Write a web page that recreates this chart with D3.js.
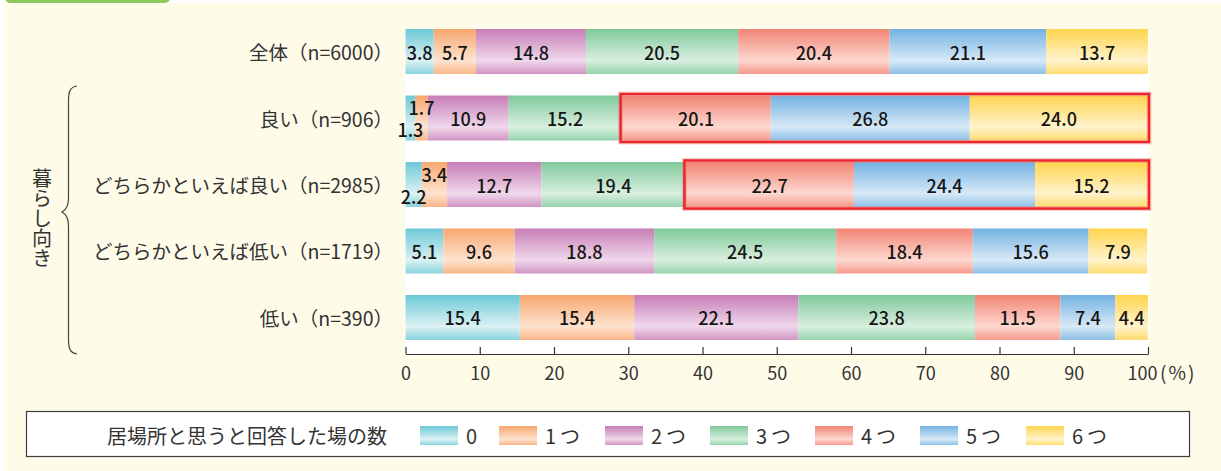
<!DOCTYPE html>
<html lang="ja">
<head>
<meta charset="utf-8">
<script src="https://cdn.jsdelivr.net/npm/d3@7"></script>
<style>
  html, body { margin: 0; padding: 0; background: #ffffff; }
  svg { display: block; }
  text { font-family: "Noto Sans CJK JP", "Noto Sans", sans-serif; }
</style>
</head>
<body>
<svg id="chart" width="1221" height="471"></svg>
<script>
// Number of places people feel they belong, by household living standard (%)
const categories = [
  "全体（n=6000）",
  "良い（n=906）",
  "どちらかといえば良い（n=2985）",
  "どちらかといえば低い（n=1719）",
  "低い（n=390）"
];
const seriesNames = ["0", "1つ", "2つ", "3つ", "4つ", "5つ", "6つ"];
const places0 = [3.8, 1.3, 2.2, 5.1, 15.4];
const places1 = [5.7, 1.7, 3.4, 9.6, 15.4];
const places2 = [14.8, 10.9, 12.7, 18.8, 22.1];
const places3 = [20.5, 15.2, 19.4, 24.5, 23.8];
const places4 = [20.4, 20.1, 22.7, 18.4, 11.5];
const places5 = [21.1, 26.8, 24.4, 15.6, 7.4];
const places6 = [13.7, 24.0, 15.2, 7.9, 4.4];
const xTicks = [0, 10, 20, 30, 40, 50, 60, 70, 80, 90, 100];
const unitLabel = "(%)";
// rows whose share of "4つ or more" is framed in red
const framedRows = ["良い（n=906）", "どちらかといえば良い（n=2985）"];
const framedFrom = 4;
const groupLabel = "暮らし向き";
const legendTitle = "居場所と思うと回答した場の数";

const seriesValues = [places0, places1, places2, places3, places4, places5, places6];
const baseColors = ["#6cc9d7", "#f7a76f", "#c77db6", "#7fc99b", "#f28474", "#73b2e1", "#ffd44e"];
const lightColors = ["#dcf1f4", "#fde3cf", "#f0d8eb", "#d9efe0", "#fdd8d0", "#d8e9f7", "#fff3cc"];

const svg = d3.select("#chart");
const defs = svg.append("defs");

// page background
svg.append("rect").attr("x", 0).attr("y", 0).attr("width", 1221).attr("height", 471).attr("fill", "#ffffff");
svg.append("rect").attr("x", 4).attr("y", 3).attr("width", 1217).attr("height", 468).attr("fill", "#fffbe9");
svg.append("rect").attr("x", 5).attr("y", -10).attr("width", 165).attr("height", 13).attr("rx", 5)
  .attr("fill", "#8dca5d");

// glossy vertical gradients for each series
seriesNames.forEach((name, i) => {
  const g = defs.append("linearGradient").attr("id", "grad" + i)
    .attr("x1", 0).attr("y1", 0).attr("x2", 0).attr("y2", 1);
  g.append("stop").attr("offset", "0%").attr("stop-color", baseColors[i]);
  g.append("stop").attr("offset", "70%").attr("stop-color", lightColors[i]);
  g.append("stop").attr("offset", "100%").attr("stop-color", d3.interpolateRgb(baseColors[i], lightColors[i])(0.25));
});

const x = d3.scaleLinear().domain([0, 100]).range([405.5, 1148]);
const y = d3.scaleBand().domain(categories).range([29, 340]).paddingInner(0.323).paddingOuter(0);
const axisY = 354;

// white plotting panel
svg.append("rect").attr("x", 405).attr("y", 29).attr("width", 744).attr("height", axisY - 29)
  .attr("fill", "#ffffff");

// stacked rows
const rows = categories.map((c, r) => {
  let acc = 0;
  return seriesValues.map((vals, s) => {
    const seg = { cat: c, row: r, s, v: vals[r], x0: acc, x1: acc + vals[r] };
    acc += vals[r];
    return seg;
  });
});
const segs = rows.flat();

svg.append("g").selectAll("rect").data(segs).join("rect")
  .attr("x", d => x(d.x0))
  .attr("y", d => y(d.cat))
  .attr("width", d => x(d.x1) - x(d.x0))
  .attr("height", y.bandwidth())
  .attr("fill", d => `url(#grad${d.s})`);

// red frames
const frames = framedRows.map(c => {
  const r = categories.indexOf(c);
  return { cat: c, x0: rows[r][framedFrom].x0, x1: 100 };
});
const fg = svg.append("g");
fg.selectAll("rect.halo").data(frames).join("rect").attr("class", "halo")
  .attr("x", d => x(d.x0) - 1).attr("y", d => y(d.cat) - 1.5)
  .attr("width", d => x(d.x1) - x(d.x0) + 2).attr("height", y.bandwidth() + 3)
  .attr("fill", "none").attr("stroke", "#f07070").attr("stroke-opacity", 0.35).attr("stroke-width", 5);
fg.selectAll("rect.frame").data(frames).join("rect").attr("class", "frame")
  .attr("x", d => x(d.x0) - 1).attr("y", d => y(d.cat) - 1.5)
  .attr("width", d => x(d.x1) - x(d.x0) + 2).attr("height", y.bandwidth() + 3)
  .attr("fill", "none").attr("stroke", "#e8262b").attr("stroke-width", 2.5);

// value labels; the two narrow leading segments are staggered
svg.append("g").selectAll("text").data(segs).join("text")
  .attr("x", d => x((d.x0 + d.x1) / 2))
  .attr("y", d => {
    const cy = y(d.cat) + y.bandwidth() / 2;
    const crowded = places0[d.row] < 3;
    if (crowded && d.s === 0) return cy + 11;
    if (crowded && d.s === 1) return cy - 11;
    return cy;
  })
  .attr("text-anchor", "middle")
  .attr("dominant-baseline", "central")
  .attr("font-size", 18)
  .attr("font-weight", 500)
  .attr("fill", "#151515")
  .text(d => d.v.toFixed(1));

// category labels
svg.append("g").selectAll("text").data(categories).join("text")
  .attr("x", 393)
  .attr("y", d => y(d) + y.bandwidth() / 2)
  .attr("text-anchor", "end")
  .attr("dominant-baseline", "central")
  .attr("font-size", 19.5)
  .attr("fill", "#333333")
  .text(d => d);

// x axis
const axis = d3.axisBottom(x).tickValues(xTicks).tickSize(-7).tickSizeOuter(0).tickPadding(13)
  .tickFormat(d3.format("d"));
const ax = svg.append("g").attr("transform", `translate(0,${axisY})`).call(axis);
ax.select(".domain").attr("stroke", "#333333").attr("stroke-width", 1.2);
ax.selectAll(".tick line").attr("stroke", "#333333").attr("stroke-width", 1.2);
ax.selectAll(".tick text").attr("font-size", 18).attr("fill", "#333333")
  .attr("font-family", "\"Noto Sans CJK JP\", sans-serif")
  .attr("dx", d => d === 100 ? -6 : 0);
svg.append("text").attr("x", 1160).attr("y", axisY + 13).attr("dy", "0.71em")
  .attr("font-size", 19).attr("fill", "#333333").attr("letter-spacing", 2)
  .text(unitLabel);

// group brace and label
const b = d3.path();
b.moveTo(77, 86);
b.bezierCurveTo(70, 87, 68.5, 92, 68.5, 100);
b.lineTo(68.5, 198);
b.bezierCurveTo(68.5, 206, 66, 210, 62, 212);
b.bezierCurveTo(66, 214, 68.5, 218, 68.5, 226);
b.lineTo(68.5, 340);
b.bezierCurveTo(68.5, 348, 70, 353, 77, 354);
svg.append("path").attr("d", b.toString()).attr("fill", "none")
  .attr("stroke", "#444444").attr("stroke-width", 1.2);
svg.append("text").attr("x", 42).attr("y", 168)
  .style("writing-mode", "vertical-rl")
  .attr("font-size", 20).attr("fill", "#333333")
  .text(groupLabel);

// legend
const lg = svg.append("g");
lg.append("rect").attr("x", 26.5).attr("y", 411.5).attr("width", 1163).attr("height", 45)
  .attr("fill", "#ffffff").attr("stroke", "#3d3d3d").attr("stroke-width", 1.2);
lg.append("text").attr("x", 107).attr("y", 435).attr("dominant-baseline", "central")
  .attr("font-size", 20).attr("fill", "#333333").text(legendTitle);
const legendX = [420, 499, 605, 710, 815, 920, 1026];
const items = lg.selectAll("g.item").data(seriesNames).join("g").attr("class", "item")
  .attr("transform", (d, i) => `translate(${legendX[i]},0)`);
items.append("rect").attr("x", 0).attr("y", 426).attr("width", 38).attr("height", 19)
  .attr("fill", (d, i) => `url(#grad${i})`);
items.append("text").attr("x", 46).attr("y", 435).attr("dominant-baseline", "central")
  .attr("font-size", 20).attr("fill", "#333333").attr("letter-spacing", 4)
  .text(d => d);
</script>
</body>
</html>
